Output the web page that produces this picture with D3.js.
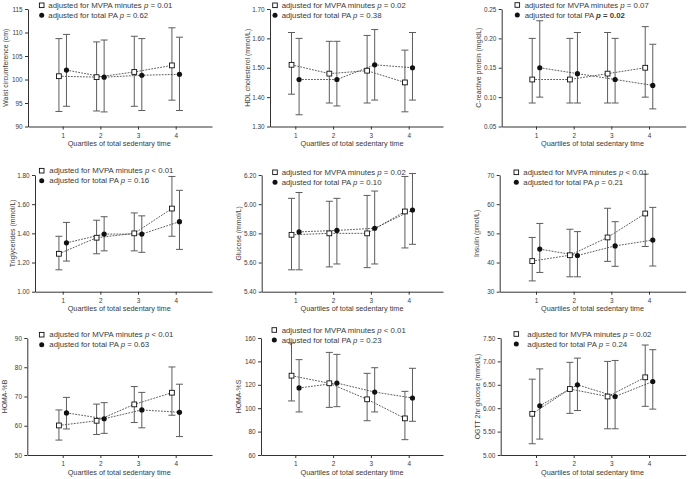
<!DOCTYPE html>
<html lang="en">
<head>
    <meta charset="UTF-8">
    <title>Sedentary time panels</title>
    <script src="https://cdn.jsdelivr.net/npm/d3@7"></script>
    <style>
        body { margin: 0; background: white; }
        svg { display: block; }
        text { font-family: "Liberation Sans", Arial, sans-serif; fill: #3a3a3a; }
        .axis path, .axis line { stroke: #333; stroke-width: 1; }
        .axis text { font-size: 6.4px; fill: #3a3a3a; }
        .legend { font-size: 7.8px; }
        .xlab { font-size: 7.3px; }
        .ylab { font-size: 6.9px; }
    </style>
</head>
<body>
<script>
    // quartiles
    const quartiles = [1, 2, 3, 4];

    // panel labels
    const yLabels = ["Waist circumference (cm)", "HDL cholesterol (mmol/L)", "C-reactive protein (mg/dL)",
        "Triglycerides (mmol/L)", "Glucose (mmol/L)", "Insulin (pmol/L)",
        "HOMA-%B", "HOMA-%S", "OGTT 2hr glucose (mmol/L)"];
    const yTicks = [
        [90, 95, 100, 105, 110, 115],
        [1.30, 1.40, 1.50, 1.60, 1.70],
        [0.05, 0.10, 0.15, 0.20, 0.25],
        [1.00, 1.20, 1.40, 1.60, 1.80],
        [5.40, 5.60, 5.80, 6.00, 6.20],
        [30, 40, 50, 60, 70],
        [50, 60, 70, 80, 90],
        [60, 80, 100, 120, 140, 160],
        [5.00, 5.50, 6.00, 6.50, 7.00, 7.50]
    ];
    const yFormats = ["d", ".2f", ".2f", ".2f", ".2f", "d", "d", "d", ".2f"];

    // p values in legends
    const pMvpa = ["= 0.01", "= 0.02", "= 0.07", "< 0.01", "= 0.02", "< 0.01", "< 0.01", "< 0.01", "= 0.02"];
    const pTotal = ["= 0.62", "= 0.38", "= 0.02", "= 0.16", "= 0.10", "= 0.21", "= 0.63", "= 0.23", "= 0.24"];
    const pTotalBold = [false, false, true, false, false, false, false, false, false];

    // adjusted for MVPA minutes (squares): mean, lower, upper
    const mvpaMean = [
        [100.7, 100.5, 101.6, 103.0],
        [1.51, 1.48, 1.49, 1.45],
        [0.13, 0.13, 0.14, 0.15],
        [1.26, 1.37, 1.40, 1.57],
        [5.79, 5.80, 5.80, 5.95],
        [40.5, 42.5, 48.6, 56.8],
        [60.1, 61.7, 67.3, 71.3],
        [127.8, 121.3, 107.6, 91.3],
        [5.88, 6.41, 6.25, 6.66]
    ];
    const mvpaLow = [
        [93.2, 93.3, 94.3, 95.6],
        [1.41, 1.38, 1.38, 1.35],
        [0.09, 0.09, 0.09, 0.10],
        [1.15, 1.26, 1.28, 1.38],
        [5.55, 5.57, 5.565, 5.70],
        [33.7, 35.1, 40.4, 45.5],
        [55.1, 57.0, 61.1, 63.6],
        [106.2, 100.7, 89.3, 73.1],
        [5.24, 5.89, 5.56, 6.04]
    ];
    const mvpaHigh = [
        [108.7, 108.0, 109.2, 111.0],
        [1.62, 1.59, 1.61, 1.56],
        [0.20, 0.20, 0.21, 0.22],
        [1.38, 1.49, 1.54, 1.79],
        [6.04, 6.02, 6.06, 6.19],
        [48.6, 51.4, 58.6, 70.3],
        [65.4, 67.4, 73.4, 80.1],
        [155.7, 147.7, 129.8, 114.4],
        [6.62, 6.98, 7.00, 7.35]
    ];

    // adjusted for total PA (circles): mean, lower, upper
    const paMean = [
        [102.0, 100.5, 100.9, 101.1],
        [1.46, 1.46, 1.51, 1.50],
        [0.15, 0.14, 0.13, 0.12],
        [1.335, 1.395, 1.395, 1.48],
        [5.81, 5.82, 5.835, 5.96],
        [44.6, 42.4, 45.7, 47.7],
        [64.4, 62.4, 65.4, 64.6],
        [117.3, 121.5, 113.8, 108.7],
        [6.05, 6.50, 6.25, 6.57]
    ];
    const paLow = [
        [94.3, 93.1, 93.4, 93.4],
        [1.34, 1.37, 1.39, 1.39],
        [0.10, 0.09, 0.09, 0.08],
        [1.21, 1.28, 1.27, 1.29],
        [5.55, 5.59, 5.59, 5.725],
        [36.6, 35.1, 38.7, 38.8],
        [58.9, 57.4, 59.3, 56.3],
        [96.8, 101.3, 96.8, 88.8],
        [5.34, 5.95, 5.56, 5.98]
    ];
    const paHigh = [
        [109.6, 108.4, 108.7, 109.0],
        [1.60, 1.59, 1.63, 1.62],
        [0.23, 0.21, 0.20, 0.19],
        [1.475, 1.514, 1.52, 1.695],
        [6.08, 6.04, 6.09, 6.21],
        [53.4, 50.6, 54.0, 58.9],
        [69.7, 67.9, 71.4, 74.2],
        [141.5, 146.0, 134.6, 134.1],
        [6.84, 7.07, 7.02, 7.25]
    ];

    // layout
    const width = 689, height = 479;
    const cols = [
        { t1: 62.7, t4: 175.7, right: 212 },
        { t1: 295.3, t4: 408.7, right: 443 },
        { t1: 536, t4: 649, right: 685.7 }
    ];
    const rows = [
        { top: 9, bottom: 126.5 },
        { top: 175, bottom: 291.7 },
        { top: 338, bottom: 455 }
    ];
    const axisLeft = [28, 270, 501.7, 35, 261.7, 499.7, 27.3, 261, 500.7];
    const legendPos = [
        [41.7, 5.3, 48.3], [275, 5.3, 281.7], [517.3, 5, 524.7],
        [41.7, 170.7, 49.3], [275, 172.3, 281.7], [516.3, 172.3, 523.3],
        [41.7, 334.7, 49.3], [274.3, 330, 281.7], [516.3, 334, 527.3]
    ];
    const offset = 0.1;

    let svg = d3.select("body").append("svg")
        .attr("width", width)
        .attr("height", height);

    yLabels.forEach((label, i) => {
        const col = cols[i % 3], row = rows[Math.floor(i / 3)];
        const left = axisLeft[i];
        const step = (col.t4 - col.t1) / 3;
        const x = d3.scaleLinear()
            .domain([1 - (col.t1 - left) / step, 4 + (col.right - col.t4) / step])
            .range([left, col.right]);
        const ticks = yTicks[i];
        const y = d3.scaleLinear()
            .domain([ticks[0], ticks[ticks.length - 1]])
            .range([row.bottom, row.top]);

        let g = svg.append("g");

        // axes
        g.append("g").attr("class", "axis")
            .attr("transform", `translate(0,${row.bottom})`)
            .call(d3.axisBottom(x).tickValues(quartiles).tickFormat(d3.format("d")).tickSize(3).tickSizeOuter(0))
            .call(a => a.selectAll("text").attr("dy", "0.85em"));
        g.append("g").attr("class", "axis")
            .attr("transform", `translate(${left},0)`)
            .call(d3.axisLeft(y).tickValues(ticks).tickFormat(d3.format(yFormats[i])).tickSize(3).tickSizeOuter(0))
            .call(a => a.selectAll("text").attr("dx", "0.1em"));

        // axis titles
        g.append("text").attr("class", "xlab")
            .attr("x", x(2.5)).attr("y", row.bottom + 19.5)
            .attr("text-anchor", "middle")
            .text("Quartiles of total sedentary time");
        g.append("text").attr("class", "ylab")
            .attr("transform", `translate(${left - 20.5},${(row.top + row.bottom) / 2}) rotate(-90)`)
            .attr("text-anchor", "middle")
            .text(label);

        // series
        const series = [
            { mean: mvpaMean[i], lo: mvpaLow[i], hi: mvpaHigh[i], dx: -offset, sq: true },
            { mean: paMean[i], lo: paLow[i], hi: paHigh[i], dx: offset, sq: false }
        ];
        const line = d3.line().x(d => d[0]).y(d => d[1]);

        series.forEach(s => {
            const pts = quartiles.map((q, k) => [x(q + s.dx), y(s.mean[k])]);
            g.append("path")
                .attr("d", line(pts))
                .attr("fill", "none")
                .attr("stroke", "#333")
                .attr("stroke-width", 0.8)
                .attr("stroke-dasharray", "1.8,1.2");

            quartiles.forEach((q, k) => {
                const cx = x(q + s.dx);
                const bar = g.append("g").attr("stroke", "#5c5c5c").attr("stroke-width", 1);
                bar.append("line").attr("x1", cx).attr("x2", cx)
                    .attr("y1", y(s.lo[k])).attr("y2", y(s.hi[k]));
                bar.append("line").attr("x1", cx - 3.5).attr("x2", cx + 3.5)
                    .attr("y1", y(s.lo[k])).attr("y2", y(s.lo[k]));
                bar.append("line").attr("x1", cx - 3.5).attr("x2", cx + 3.5)
                    .attr("y1", y(s.hi[k])).attr("y2", y(s.hi[k]));
            });
        });

        series.forEach(s => {
            quartiles.forEach((q, k) => {
                const cx = x(q + s.dx), cy = y(s.mean[k]);
                if (s.sq) {
                    g.append("rect").attr("x", cx - 2.4).attr("y", cy - 2.4)
                        .attr("width", 4.8).attr("height", 4.8)
                        .attr("fill", "white").attr("stroke", "#111").attr("stroke-width", 0.9);
                } else {
                    g.append("circle").attr("cx", cx).attr("cy", cy).attr("r", 2.6)
                        .attr("fill", "#111");
                }
            });
        });

        // legend
        const [mx, my, tx] = legendPos[i];
        g.append("rect").attr("x", mx - 2.3).attr("y", my - 2.3)
            .attr("width", 4.6).attr("height", 4.6)
            .attr("fill", "white").attr("stroke", "#111").attr("stroke-width", 0.9);
        g.append("circle").attr("cx", mx).attr("cy", my + 10).attr("r", 2.5).attr("fill", "#111");

        let t1 = g.append("text").attr("class", "legend")
            .attr("x", tx).attr("y", my).attr("dy", "0.35em");
        t1.append("tspan").text("adjusted for MVPA minutes ");
        t1.append("tspan").attr("font-style", "italic").text("p");
        t1.append("tspan").text(" " + pMvpa[i]);

        let t2 = g.append("text").attr("class", "legend")
            .attr("x", tx).attr("y", my + 10).attr("dy", "0.35em");
        t2.append("tspan").text("adjusted for total PA ");
        t2.append("tspan").attr("font-style", "italic")
            .attr("font-weight", pTotalBold[i] ? "bold" : null).text("p");
        t2.append("tspan").attr("font-weight", pTotalBold[i] ? "bold" : null).text(" " + pTotal[i]);
    });
</script>
</body>
</html>
